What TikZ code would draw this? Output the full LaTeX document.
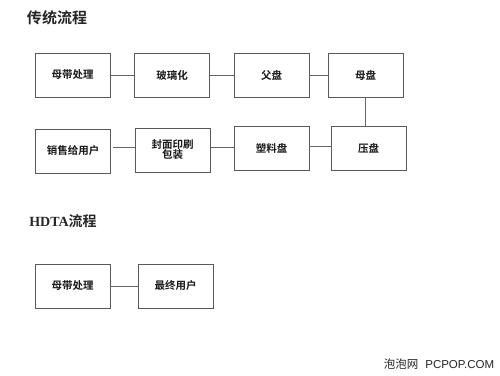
\documentclass[tikz,border=0pt]{standalone}
\usepackage{fontspec}
\newfontfamily\cjk{Noto Sans CJK SC}
\newfontfamily\cjkb{Noto Sans CJK SC Bold}
\newfontfamily\serifb{Liberation Serif}
\setsansfont{Liberation Sans}
\begin{document}
\begin{tikzpicture}[x=1pt,y=-1pt,
  box/.style={draw=black!65,line width=0.9pt,minimum width=75pt,minimum height=44pt,inner sep=0pt,font=\cjkb\fontsize{10.5}{12}\selectfont,align=center,text=black!90},
  link/.style={draw=black!60,line width=0.9pt},
  ttl/.style={font=\cjkb\fontsize{15}{17}\selectfont,text=black!85,inner sep=0pt}]
\useasboundingbox[fill=white] (0,0) rectangle (500,375);
\node[ttl] (t1) at (57,18) {传统流程};
\node[box] (a1) at (72.5,75) {母带处理};
\node[box] (a2) at (172,75) {玻璃化};
\node[box] (a3) at (271.5,75) {父盘};
\node[box] (a4) at (365.5,75) {母盘};
\node[box] (b4) at (368.5,148) {压盘};
\node[box] (b3) at (271.5,148.5) {塑料盘};
\node[box] (b2) at (172.5,150) {封面印刷\\[-2pt]包装};
\node[box] (b1) at (73,151) {销售给用户};
\draw[link] (a1) -- (a2);
\draw[link] (a2) -- (a3);
\draw[link] (a3) -- (a4);
\draw[link] (a4.south) -- (a4.south |- b4.north);
\draw[link] (b4.west |- 0,146) -- (b3.east |- 0,146);
\draw[link] (b3.west |- 0,147) -- (b2.east |- 0,147);
\coordinate (g) at (113,147);
\draw[link] (b2.west |- g) -- (g);
\node[ttl,font=\cjkb\fontsize{14}{16}\selectfont] (t2) at (63,221) {{\serifb\bfseries HDTA}流程};
\node[box] (c1) at (72.5,286) {母带处理};
\node[box] (c2) at (175.5,286) {最终用户};
\draw[link] (c1) -- (c2);
\node[inner sep=0pt,text=black!85] (wm) at (439,364) {\cjk\fontsize{11.5}{13}\selectfont 泡泡网\hspace{7pt}\sffamily PCPOP.COM};
\end{tikzpicture}
\end{document}
